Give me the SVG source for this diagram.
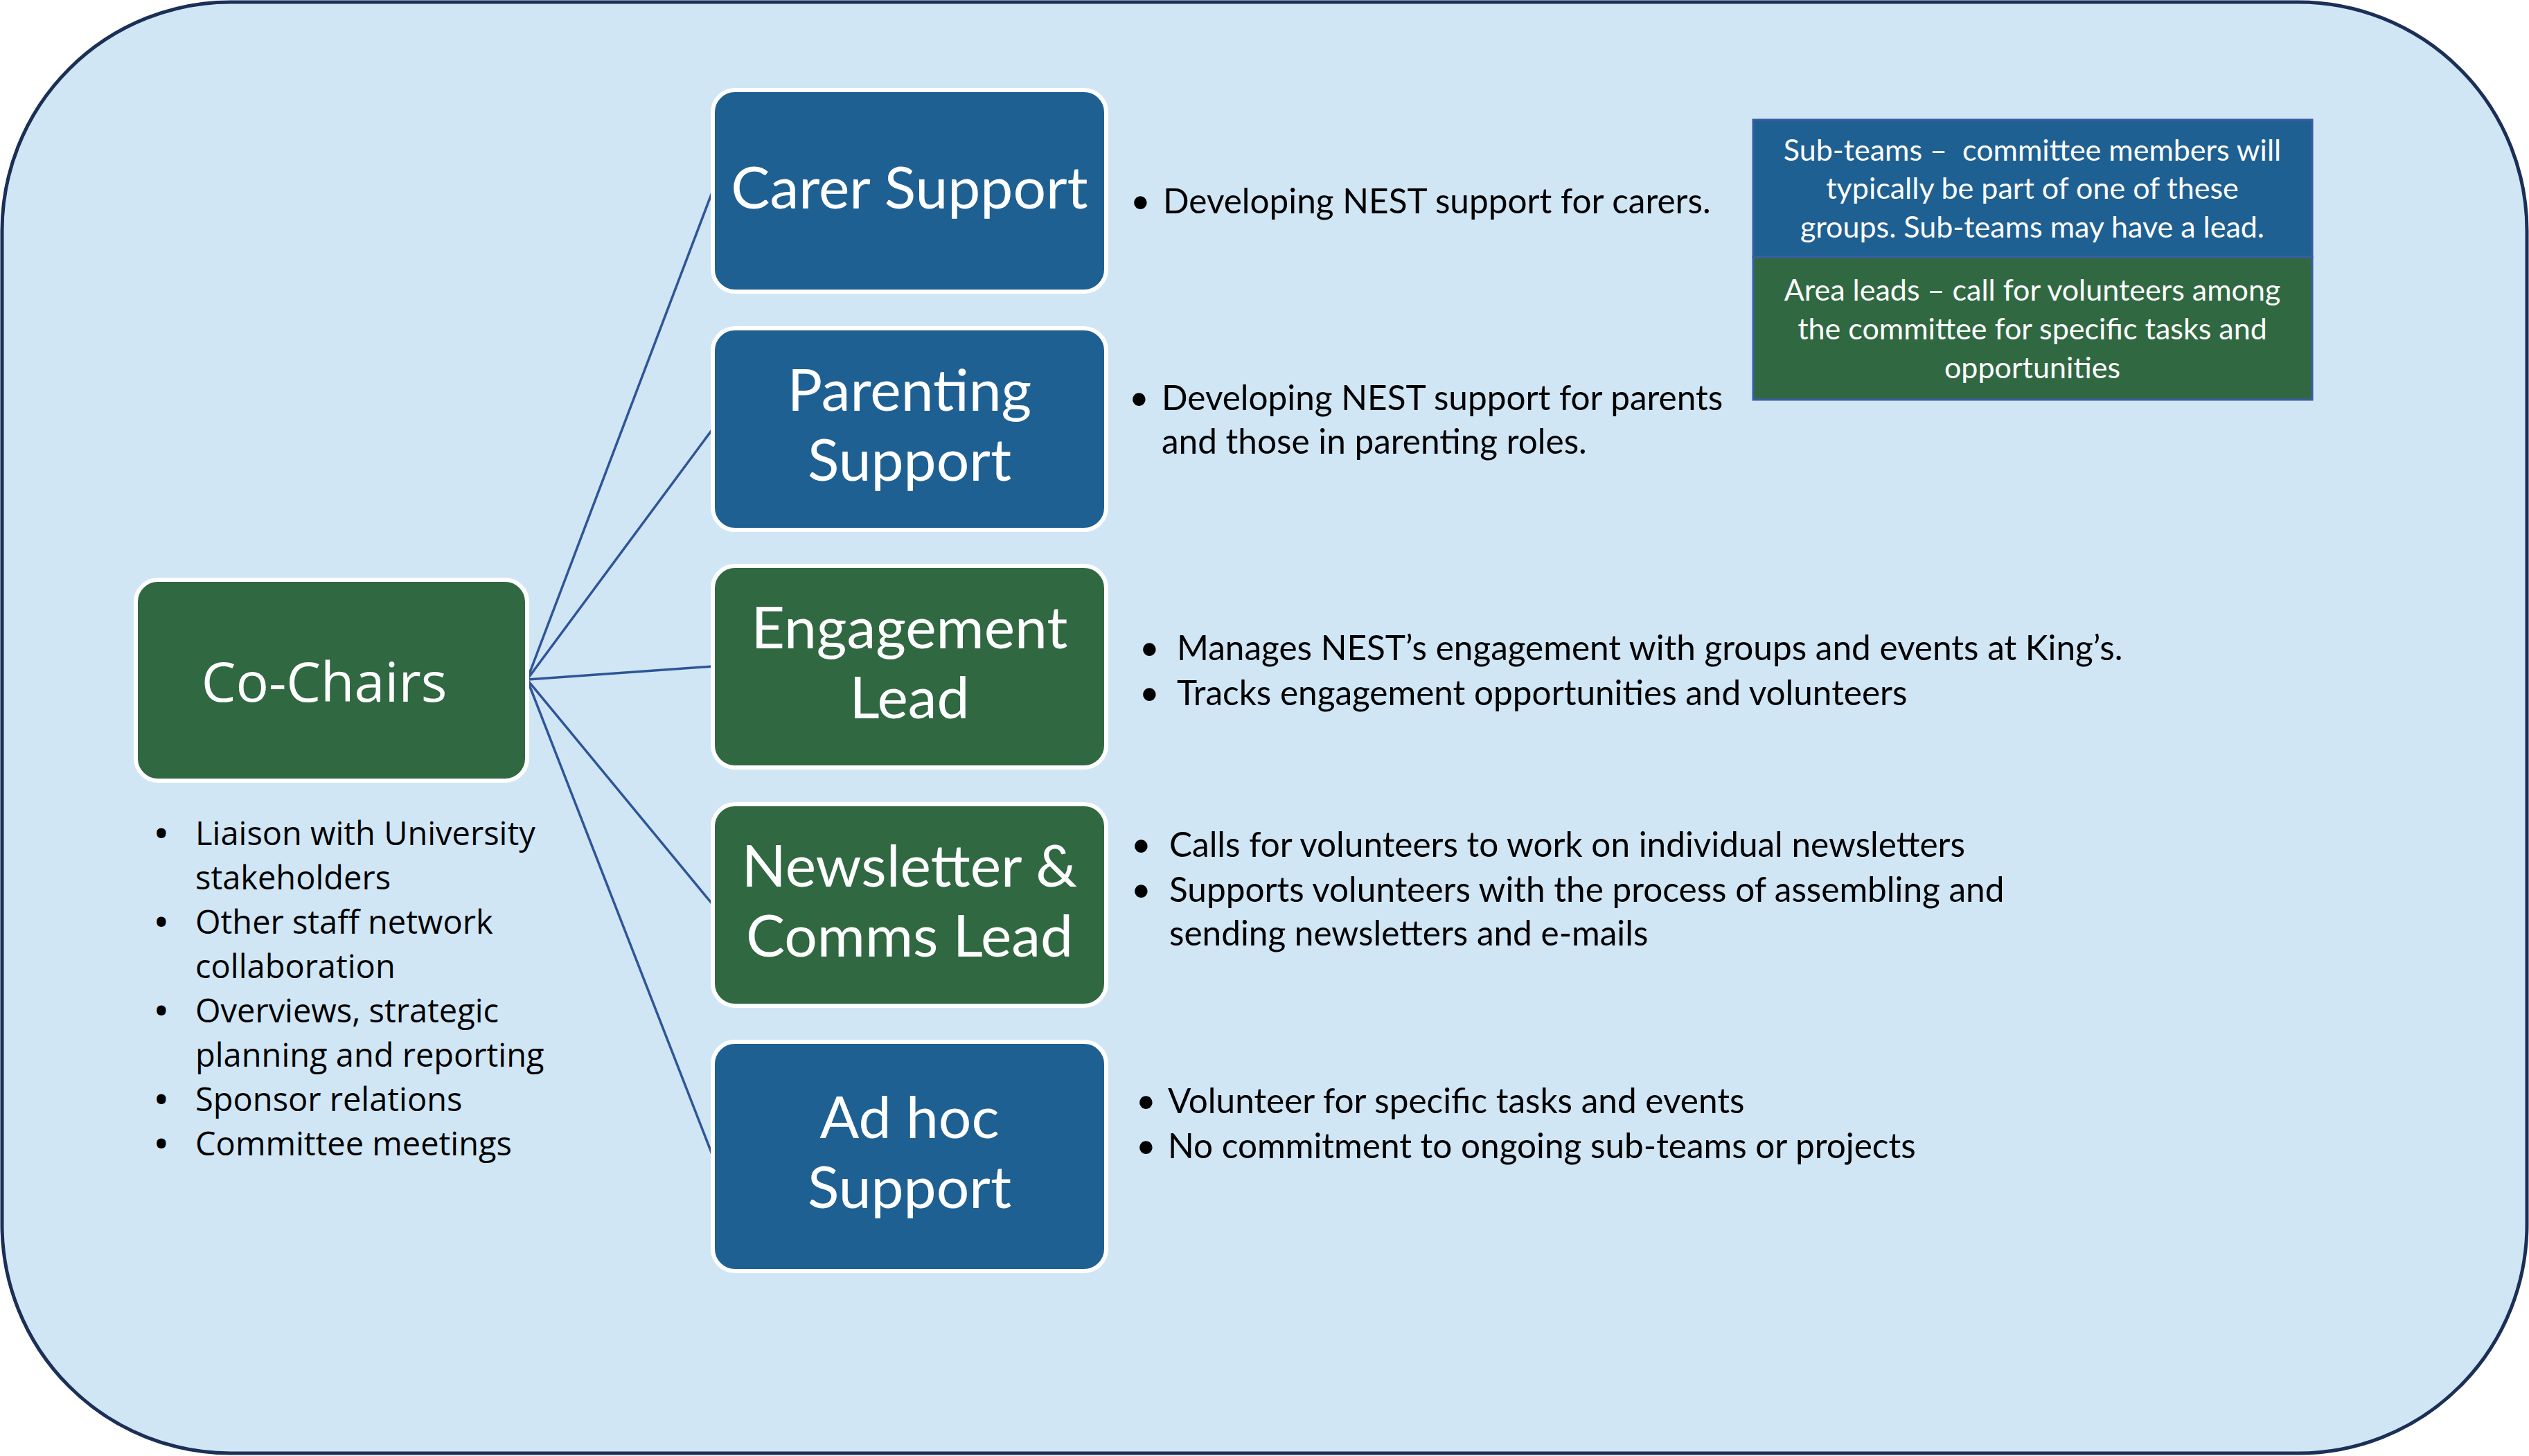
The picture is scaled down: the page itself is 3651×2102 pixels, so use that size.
<svg xmlns="http://www.w3.org/2000/svg" width="3651" height="2102" viewBox="0 0 3651 2102">
<style>
.box{stroke:#ffffff;stroke-width:6}
.blue{fill:#1F6092}
.green{fill:#306842}
.lbl{font-family:Lato,"Open Sans",sans-serif;font-size:84px;fill:#ffffff;text-anchor:middle}
.chair{font-family:"Open Sans",sans-serif;font-size:79px;fill:#ffffff;text-anchor:middle}
.bt{font-family:Lato,"Open Sans",sans-serif;font-size:49.5px;fill:#000000}
.ct{font-family:"Open Sans",sans-serif;font-size:47px;fill:#000000}
.cb{font-family:"Open Sans",sans-serif;font-size:47px;font-weight:bold;fill:#000000}
.lg{font-family:Lato,"Open Sans",sans-serif;font-size:43px;fill:#ffffff;text-anchor:middle}
.conn{stroke:#2E5597;stroke-width:3.5;fill:none}
</style>
<rect id="frame" x="3" y="3" width="3645" height="2095" rx="330" ry="330" fill="#D0E6F5" stroke="#1B2F57" stroke-width="5"/>
<g id="connectors">
<line class="conn" x1="761" y1="981" x2="1029" y2="275"/>
<line class="conn" x1="761" y1="981" x2="1029" y2="619"/>
<line class="conn" x1="761" y1="981" x2="1029" y2="962"/>
<line class="conn" x1="761" y1="981" x2="1029" y2="1306"/>
<line class="conn" x1="761" y1="981" x2="1029" y2="1669"/>
</g>
<g id="co-chairs">
<rect class="box green" x="196" y="837" width="565" height="290" rx="32"/>
<text class="chair" x="468" y="1013">Co-Chairs</text>
<text class="cb" x="224" y="1220">•</text><text class="ct" x="282" y="1220">Liaison with University</text>
<text class="ct" x="282" y="1284">stakeholders</text>
<text class="cb" x="224" y="1348">•</text><text class="ct" x="282" y="1348">Other staff network</text>
<text class="ct" x="282" y="1412">collaboration</text>
<text class="cb" x="224" y="1476">•</text><text class="ct" x="282" y="1476">Overviews, strategic</text>
<text class="ct" x="282" y="1540">planning and reporting</text>
<text class="cb" x="224" y="1604">•</text><text class="ct" x="282" y="1604">Sponsor relations</text>
<text class="cb" x="224" y="1668">•</text><text class="ct" x="282" y="1668">Committee meetings</text>
</g>
<g id="carer-support">
<rect class="box blue" x="1029" y="130" width="568" height="291" rx="32"/>
<text class="lbl" x="1313" y="301">Carer Support</text>
<text class="bt" x="1632" y="308">•</text><text class="bt" x="1679" y="308">Developing NEST support for carers.</text>
</g>
<g id="parenting-support">
<rect class="box blue" x="1029" y="474" width="568" height="291" rx="32"/>
<text class="lbl" x="1313" y="593">Parenting</text>
<text class="lbl" x="1313" y="694">Support</text>
<text class="bt" x="1630" y="592">•</text><text class="bt" x="1677" y="592">Developing NEST support for parents</text>
<text class="bt" x="1677" y="655">and those in parenting roles.</text>
</g>
<g id="engagement-lead">
<rect class="box green" x="1029" y="817" width="568" height="291" rx="32"/>
<text class="lbl" x="1313" y="936">Engagement</text>
<text class="lbl" x="1313" y="1037">Lead</text>
<text class="bt" x="1645" y="953">•</text><text class="bt" x="1699" y="953">Manages NEST’s engagement with groups and events at King’s.</text>
<text class="bt" x="1645" y="1018">•</text><text class="bt" x="1699" y="1018">Tracks engagement opportunities and volunteers</text>
</g>
<g id="newsletter-comms-lead">
<rect class="box green" x="1029" y="1161" width="568" height="291" rx="32"/>
<text class="lbl" x="1313" y="1280">Newsletter &amp;</text>
<text class="lbl" x="1313" y="1381">Comms Lead</text>
<text class="bt" x="1633" y="1237">•</text><text class="bt" x="1688" y="1237">Calls for volunteers to work on individual newsletters</text>
<text class="bt" x="1633" y="1302">•</text><text class="bt" x="1688" y="1302">Supports volunteers with the process of assembling and</text>
<text class="bt" x="1688" y="1365">sending newsletters and e-mails</text>
</g>
<g id="ad-hoc-support">
<rect class="box blue" x="1029" y="1504" width="568" height="331" rx="32"/>
<text class="lbl" x="1313" y="1643">Ad hoc</text>
<text class="lbl" x="1313" y="1744">Support</text>
<text class="bt" x="1640" y="1607">•</text><text class="bt" x="1686" y="1607">Volunteer for specific tasks and events</text>
<text class="bt" x="1640" y="1672">•</text><text class="bt" x="1686" y="1672">No commitment to ongoing sub-teams or projects</text>
</g>
<g id="legend-subteams">
<rect x="2531" y="173" width="807" height="198" fill="#1F6092" stroke="#3A5DA3" stroke-width="3"/>
<text class="lg" x="2934" y="232" xml:space="preserve">Sub-teams –  committee members will</text>
<text class="lg" x="2934" y="287">typically be part of one of these</text>
<text class="lg" x="2934" y="343">groups. Sub-teams may have a lead.</text>
</g>
<g id="legend-arealeads">
<rect x="2531" y="371" width="807" height="206" fill="#306842" stroke="#3A5DA3" stroke-width="3"/>
<text class="lg" x="2934" y="434">Area leads – call for volunteers among</text>
<text class="lg" x="2934" y="490">the committee for specific tasks and</text>
<text class="lg" x="2934" y="546">opportunities</text>
</g>
</svg>
